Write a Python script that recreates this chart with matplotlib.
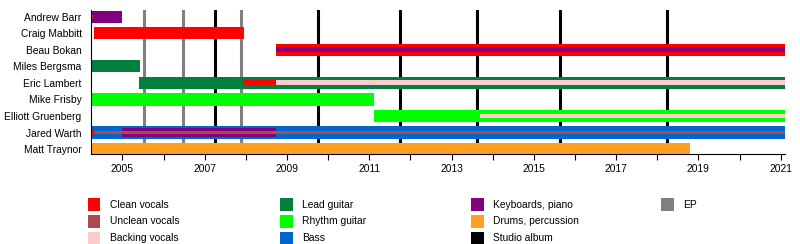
import matplotlib.pyplot as plt

plt.rcParams['font.family'] = ['Liberation Sans', 'DejaVu Sans']

# Data
members = ['Andrew Barr', 'Craig Mabbitt', 'Beau Bokan', 'Miles Bergsma', 'Eric Lambert',
           'Mike Frisby', 'Elliott Gruenberg', 'Jared Warth', 'Matt Traynor']
start, end = 2004.23, 2021.1

# (member, from, to) for the full-height bars
clean_vocals = [('Craig Mabbitt', 2004.31, 2007.95), ('Beau Bokan', 2008.73, end)]
lead_guitar = [('Miles Bergsma', start, 2005.43), ('Eric Lambert', 2005.40, end)]
rhythm_guitar = [('Mike Frisby', start, 2011.12), ('Elliott Gruenberg', 2011.11, end)]
bass = [('Jared Warth', start, end)]
keyboards = [('Andrew Barr', start, 2005.0)]
drums = [('Matt Traynor', start, 2018.79)]

# secondary roles drawn as stripes inside the bars
keyboards_wide = [('Jared Warth', 2005.0, 2008.74)]
keyboards_thin = [('Beau Bokan', 2008.73, end)]
clean_thin = [('Eric Lambert', 2007.93, 2008.74), ('Jared Warth', start, 2004.31)]
unclean_thin = [('Jared Warth', 2004.31, end), ('Andrew Barr', start, 2004.29)]
backing_thin = [('Eric Lambert', 2008.74, end), ('Elliott Gruenberg', 2013.69, end)]

studio_albums = [2007.25, 2009.76, 2011.74, 2013.63, 2015.64, 2018.24]
eps = [2005.53, 2006.48, 2007.88]

colors = {'Clean vocals': '#FF0000', 'Unclean vocals': '#B04850', 'Backing vocals': '#FFCCCC',
          'Lead guitar': '#007F3F', 'Rhythm guitar': '#00FF00', 'Bass': '#0066CC',
          'Keyboards, piano': '#800080', 'Drums, percussion': '#FFA020',
          'Studio album': '#000000', 'EP': '#808080'}

fig = plt.figure(figsize=(8, 2.44), dpi=100)
ax = fig.add_axes([0.1134, 0.369, 0.981 - 0.1134, 0.959 - 0.369])

for x in eps:
    ax.axvline(x, color=colors['EP'], lw=2.2, zorder=1)
for x in studio_albums:
    ax.axvline(x, color=colors['Studio album'], lw=2.2, zorder=1)


def draw(rows, color, h):
    for name, a, b in rows:
        ax.barh(members.index(name), b - a, left=a, height=h, color=color, lw=0, zorder=2)


draw(clean_vocals, colors['Clean vocals'], 0.73)
draw(lead_guitar, colors['Lead guitar'], 0.73)
draw(rhythm_guitar, colors['Rhythm guitar'], 0.73)
draw(bass, colors['Bass'], 0.73)
draw(keyboards, colors['Keyboards, piano'], 0.73)
draw(drums, colors['Drums, percussion'], 0.73)
draw(keyboards_wide, colors['Keyboards, piano'], 0.6)
draw(keyboards_thin, colors['Keyboards, piano'], 0.3)
draw(clean_thin, colors['Clean vocals'], 0.3)
draw(unclean_thin, colors['Unclean vocals'], 0.2)
draw(backing_thin, colors['Backing vocals'], 0.3)

ax.set_xlim(start, end)
ax.set_ylim(8.3, -0.42)
ax.set_yticks(range(len(members)))
ax.set_yticklabels(members, fontsize=7.4)
ax.tick_params(axis='y', length=0, pad=6.5)
ax.set_xticks(range(2005, 2022, 2))
ax.set_xticks(range(2006, 2021, 2), minor=True)
ax.tick_params(axis='x', which='both', length=4, width=0.8, labelsize=7.4, pad=3)
for s in ['top', 'right']:
    ax.spines[s].set_visible(False)

legend_items = [['Clean vocals', 'Unclean vocals', 'Backing vocals'],
                ['Lead guitar', 'Rhythm guitar', 'Bass'],
                ['Keyboards, piano', 'Drums, percussion', 'Studio album'],
                ['EP']]
col_x = [88, 280, 471, 661]
row_y = [204.5, 221, 238]
for i, col in enumerate(legend_items):
    for j, label in enumerate(col):
        x0, y0 = col_x[i], row_y[j]
        fig.patches.append(plt.Rectangle((x0 / 800, 1 - (y0 + 6.5) / 244), 12.5 / 800, 13 / 244,
                                         transform=fig.transFigure, color=colors[label], lw=0))
        fig.text((x0 + 22.5) / 800, 1 - y0 / 244, label, fontsize=7.4, va='center', ha='left')

fig.savefig('out.png', dpi=100)
